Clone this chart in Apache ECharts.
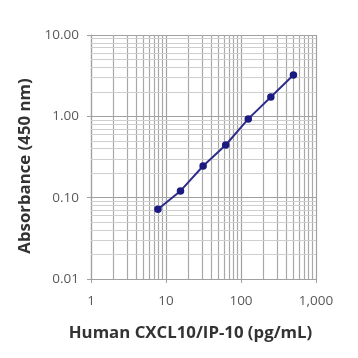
<!DOCTYPE html>
<html><head><meta charset="utf-8">
<script src="https://cdn.jsdelivr.net/npm/echarts@6/dist/echarts.min.js"></script>
<style>html,body{margin:0;padding:0;background:#fff}#c{width:358px;height:358px}</style>
</head><body><div id="c"></div>
<script>
var concentrations = [7.8, 15.6, 31.25, 62.5, 125, 250, 500];
var absorbance = [0.072, 0.121, 0.245, 0.444, 0.93, 1.73, 3.22];
var xTickLabels = {1: '1', 10: '10', 100: '100', 1000: '1,000'};
var yTickLabels = {0.01: '0.01', 0.1: '0.10', 1: '1.00', 10: '10.00'};
var xTitle = 'Human CXCL10/IP-10 (pg/mL)';
var yTitle = 'Absorbance (450 nm)';

var xMinor = [], yMinor = [];
[1, 10, 100].forEach(function (d) { for (var k = 2; k <= 9; k++) xMinor.push(k * d); });
[0.01, 0.1, 1].forEach(function (d) { for (var k = 2; k <= 9; k++) yMinor.push(+(k * d).toFixed(3)); });

var minorLines = xMinor.map(function (v) { return { xAxis: v, lineStyle: { color: '#a8a8a8', width: 1.2, type: 'solid' } }; })
  .concat(yMinor.map(function (v) { return { yAxis: v, lineStyle: { color: '#cfcfcf', width: 1.2, type: 'solid' } }; }));

var chart = echarts.init(document.getElementById('c'), null, { renderer: 'canvas' });
var font = '"Open Sans", "Liberation Sans", sans-serif';
chart.setOption({
  animation: false,
  grid: { left: 91, right: 42, top: 35, bottom: 79, containLabel: false },
  xAxis: {
    type: 'log', logBase: 10, min: 1, max: 1000,
    name: xTitle, nameLocation: 'middle', nameGap: 46,
    nameTextStyle: { fontFamily: font, fontWeight: 'bold', fontSize: 16.8, color: '#333333', padding: [0, 26, 0, 0] },
    axisLine: { show: true, lineStyle: { color: '#a0a0a0', width: 1.2 } },
    axisTick: { show: true, length: 4, lineStyle: { color: '#a0a0a0' } },
    axisLabel: { fontFamily: font, fontSize: 13.5, color: '#595959', margin: 15,
      formatter: function (v) { return xTickLabels[Math.round(v)] || ''; } },
    splitLine: { show: true, lineStyle: { color: '#a0a0a0', width: 1.2 } }
  },
  yAxis: {
    type: 'log', logBase: 10, min: 0.01, max: 10,
    name: yTitle, nameLocation: 'middle', nameGap: 57, nameRotate: 90,
    nameTextStyle: { fontFamily: font, fontWeight: 'bold', fontSize: 16.8, color: '#333333', padding: [0, 18, 0, 0] },
    axisLine: { show: true, lineStyle: { color: '#a0a0a0', width: 1.2 } },
    axisTick: { show: true, length: 4, lineStyle: { color: '#a0a0a0' } },
    axisLabel: { fontFamily: font, fontSize: 13.5, color: '#595959', margin: 12,
      formatter: function (v) { var k = +v.toPrecision(3); return yTickLabels[k] || v.toFixed(2); } },
    splitLine: { show: true, lineStyle: { color: '#a0a0a0', width: 1.2 } }
  },
  series: [{
    type: 'line',
    data: concentrations.map(function (c, i) { return [c, absorbance[i]]; }),
    symbol: 'circle', symbolSize: 7.5,
    lineStyle: { color: '#2e2e8a', width: 2 },
    itemStyle: { color: '#1a1a80' },
    z: 5,
    markLine: {
      silent: true, symbol: ['none', 'none'], label: { show: false },
      animation: false, z: 1,
      data: minorLines
    }
  }]
});
</script></body></html>
